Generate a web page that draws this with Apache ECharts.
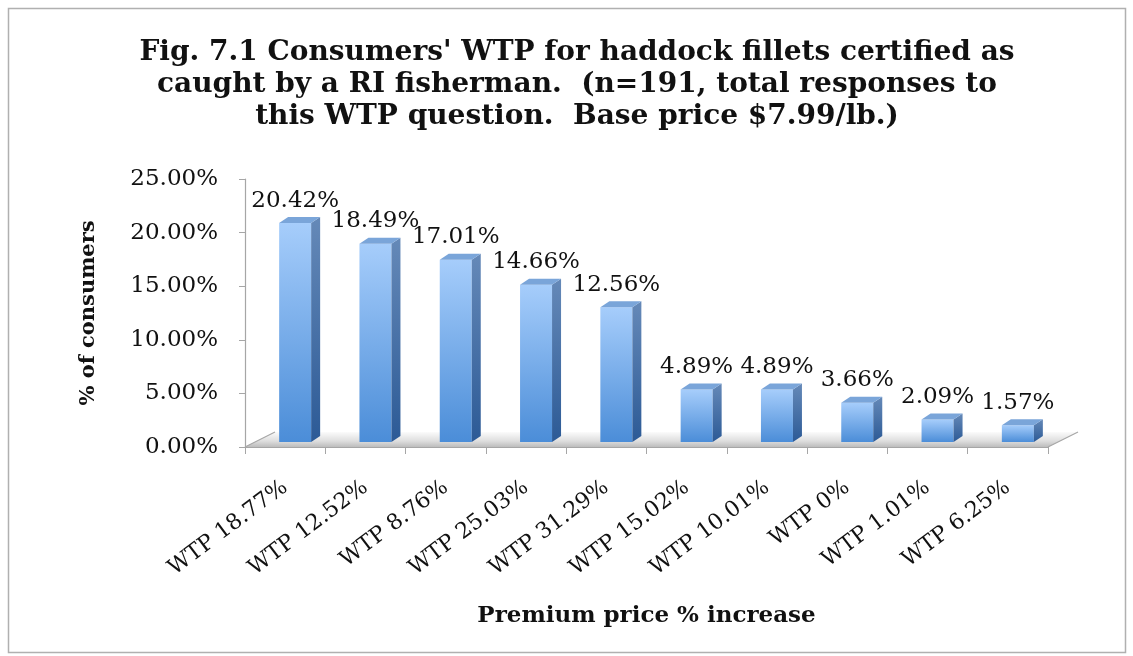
<!DOCTYPE html>
<html>
<head>
<meta charset="utf-8">
<script src="https://cdn.jsdelivr.net/npm/echarts@6/dist/echarts.min.js"></script>
<style>html,body{margin:0;padding:0;background:#fff}#c{width:1133px;height:656px}</style>
</head>
<body>
<div id="c"></div>
<script>
const categories = ['WTP 18.77%','WTP 12.52%','WTP 8.76%','WTP 25.03%','WTP 31.29%','WTP 15.02%','WTP 10.01%','WTP 0%','WTP 1.01%','WTP 6.25%'];
const values = [20.42, 18.49, 17.01, 14.66, 12.56, 4.89, 4.89, 3.66, 2.09, 1.57];
const yTicks = [0, 5, 10, 15, 20, 25];
const titleText = "Fig. 7.1 Consumers' WTP for haddock fillets certified as\ncaught by a RI fisherman.  (n=191, total responses to\nthis WTP question.  Base price $7.99/lb.)";

const SERIF = '"DejaVu Serif", serif';
const chart = echarts.init(document.getElementById('c'), null, {renderer:'canvas'});

// 3D offsets
const OX = 10, OY = -5, BW = 32, DX = 9, DY = -6, FDX = 30, FDY = -15;

function renderFloor(params, api) {
  const cs = params.coordSys;
  const x0 = cs.x, x1 = cs.x + cs.width, y = cs.y + cs.height;
  return {
    type: 'group',
    children: [
      { type: 'polygon', shape: { points: [[x0,y],[x1,y],[x1+FDX,y+FDY],[x0+FDX,y+FDY]] },
        style: { fill: new echarts.graphic.LinearGradient(0,0,0,1,[{offset:0,color:'#fbfbfb'},{offset:0.6,color:'#dedede'},{offset:1,color:'#bdbdbd'}]) } },
      { type: 'line', shape: { x1: x0, y1: y, x2: x0+FDX, y2: y+FDY }, style: { stroke: '#a6a6a6', lineWidth: 1.2 } },
      { type: 'line', shape: { x1: x1, y1: y, x2: x1+FDX, y2: y+FDY }, style: { stroke: '#a6a6a6', lineWidth: 1.2 } }
    ]
  };
}

function renderBar(params, api) {
  const i = api.value(0), v = api.value(1);
  const base = api.coord([i, 0]);
  const top = api.coord([i, v]);
  const x0 = base[0] + OX - BW/2, x1 = x0 + BW;
  const yb = base[1] + OY, yt = top[1] + OY;
  return {
    type: 'group',
    children: [
      { type: 'rect', shape: { x: x0, y: yt, width: BW, height: yb - yt },
        style: { fill: new echarts.graphic.LinearGradient(0,0,0,1,[{offset:0,color:'#a6cdfb'},{offset:1,color:'#4b8dd8'}]) } },
      { type: 'polygon', shape: { points: [[x1,yt],[x1+DX,yt+DY],[x1+DX,yb+DY],[x1,yb]] },
        style: { fill: new echarts.graphic.LinearGradient(0,0,0,1,[{offset:0,color:'#6589b8'},{offset:1,color:'#2c5a96'}]) } },
      { type: 'polygon', shape: { points: [[x0,yt],[x0+DX,yt+DY],[x1+DX,yt+DY],[x1,yt]] },
        style: { fill: '#7aa5d9' } },
      { type: 'text', style: { text: v.toFixed(2) + '%', x: x0 + BW/2, y: yt + DY - 5,
        align: 'center', verticalAlign: 'bottom', font: '23px ' + SERIF, fill: '#111' } }
    ]
  };
}

chart.setOption({
  animation: false,
  backgroundColor: '#fff',
  title: {
    text: titleText, left: 572, top: 32, textAlign: 'center',
    textStyle: { fontFamily: SERIF, fontWeight: 'bold', fontSize: 28, lineHeight: 32, color: '#111' }
  },
  graphic: [
    { type: 'rect', shape: { x: 8.5, y: 8.5, width: 1117, height: 644 }, style: { fill: 'none', stroke: '#b0b0b0', lineWidth: 1.5 }, z: 0 }
  ],
  grid: { left: 245, right: 85, top: 179, bottom: 209 },
  xAxis: {
    type: 'category', data: categories, boundaryGap: true,
    axisLine: { lineStyle: { color: '#a6a6a6', width: 1.2 } },
    axisTick: { show: true, length: 7, lineStyle: { color: '#a6a6a6' } },
    axisLabel: { rotate: 37, margin: 38, fontFamily: SERIF, fontSize: 22, color: '#111' },
    name: 'Premium price % increase', nameLocation: 'middle', nameGap: 158,
    nameTextStyle: { fontFamily: SERIF, fontWeight: 'bold', fontSize: 23, color: '#111' }
  },
  yAxis: {
    type: 'value', min: 0, max: 25, interval: 5,
    axisLine: { show: true, lineStyle: { color: '#a6a6a6', width: 1.2 } },
    axisTick: { show: true, length: 6, lineStyle: { color: '#a6a6a6' } },
    splitLine: { show: false },
    axisLabel: { fontFamily: SERIF, fontSize: 23, color: '#111', margin: 27,
      formatter: function (v) { return yTicks.indexOf(v) >= 0 ? v.toFixed(2) + '%' : ''; } },
    name: '% of consumers', nameLocation: 'middle', nameGap: 146, nameRotate: 90,
    nameTextStyle: { fontFamily: SERIF, fontWeight: 'bold', fontSize: 21, color: '#111' }
  },
  series: [
    { type: 'custom', renderItem: renderFloor, data: [[0, 0]], z: 1, silent: true, clip: false },
    { type: 'custom', renderItem: renderBar, data: values.map((v, i) => [i, v]), z: 2, clip: false }
  ]
});
</script>
</body>
</html>
